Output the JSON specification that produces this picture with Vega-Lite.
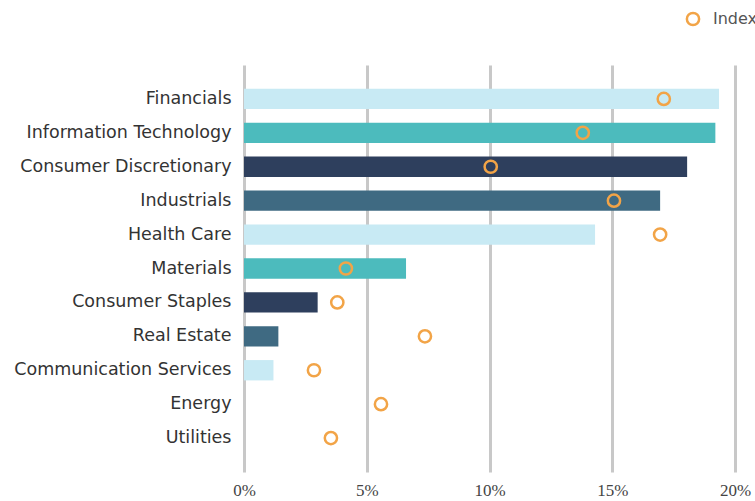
{
  "$schema": "https://vega.github.io/schema/vega-lite/v6.json",
  "autosize": "none",
  "width": 491,
  "height": 407,
  "padding": {"left": 244, "top": 65, "right": 20, "bottom": 29},
  "background": "white",
  "config": {"view": {"stroke": null}},
  "data": {"values": [
    {"sector": "Financials", "value": 19.35, "index": 17.1},
    {"sector": "Information Technology", "value": 19.2, "index": 13.8},
    {"sector": "Consumer Discretionary", "value": 18.05, "index": 10.05},
    {"sector": "Industrials", "value": 16.95, "index": 15.07},
    {"sector": "Health Care", "value": 14.3, "index": 16.95},
    {"sector": "Materials", "value": 6.6, "index": 4.15},
    {"sector": "Consumer Staples", "value": 3.0, "index": 3.8},
    {"sector": "Real Estate", "value": 1.4, "index": 7.37},
    {"sector": "Communication Services", "value": 1.2, "index": 2.85},
    {"sector": "Energy", "value": 0, "index": 5.58},
    {"sector": "Utilities", "value": 0, "index": 3.54}
  ]},
  "encoding": {
    "y": {
      "field": "sector", "type": "nominal", "sort": null, "title": null,
      "scale": {"paddingInner": 0.4, "paddingOuter": 0.7},
      "axis": {"domain": false, "ticks": false, "labelPadding": 13, "labelLimit": 400, "labelFont": "DejaVu Sans", "labelFontSize": 17.5, "labelColor": "#333333", "grid": false}
    }
  },
  "layer": [
    {
      "mark": {"type": "bar"},
      "encoding": {
        "x": {
          "field": "value", "type": "quantitative", "title": null,
          "scale": {"domain": [0, 20], "nice": false},
          "axis": {"values": [0, 5, 10, 15, 20], "labelExpr": "datum.value + '%'", "domain": false, "ticks": false, "grid": true, "gridColor": "#c8c8c8", "gridWidth": 3, "labelFont": "Liberation Serif", "labelFontSize": 17, "labelColor": "#444444", "labelPadding": 10, "labelFlush": false}
        },
        "color": {
          "field": "sector", "type": "nominal", "legend": null,
          "scale": {
            "domain": ["Financials", "Information Technology", "Consumer Discretionary", "Industrials", "Health Care", "Materials", "Consumer Staples", "Real Estate", "Communication Services", "Energy", "Utilities"],
            "range": ["#c8eaf4", "#4cbbbd", "#2e3f5d", "#3f6a82", "#c8eaf4", "#4cbbbd", "#2e3f5d", "#3f6a82", "#c8eaf4", "#4cbbbd", "#2e3f5d"]
          }
        }
      }
    },
    {
      "mark": {"type": "point", "filled": false, "size": 150, "strokeWidth": 2.5, "opacity": 1},
      "encoding": {
        "x": {"field": "index", "type": "quantitative"},
        "stroke": {
          "datum": "Index",
          "scale": {"range": ["#f2a447"]},
          "legend": {"title": null, "orient": "none", "legendX": 441, "legendY": -54, "labelFont": "DejaVu Sans", "labelFontSize": 16, "labelColor": "#555555", "symbolSize": 150, "symbolStrokeWidth": 2.5, "labelOffset": 12}
        }
      }
    }
  ]
}
